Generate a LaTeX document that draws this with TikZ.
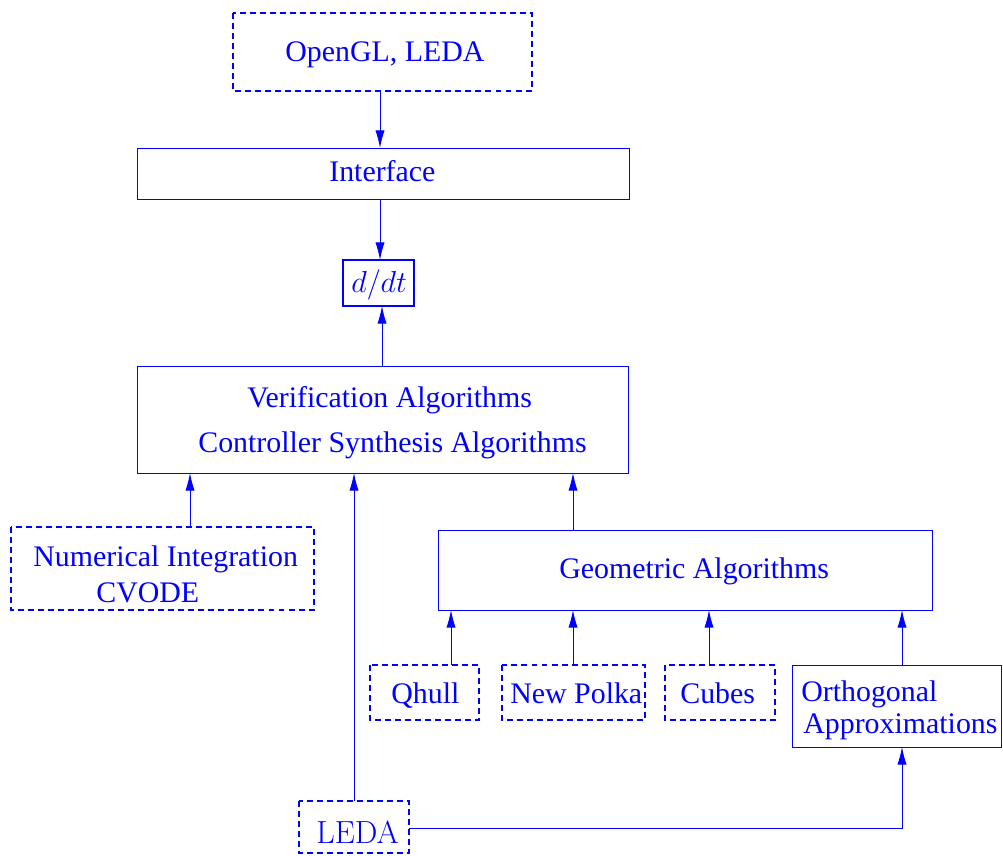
\documentclass[tikz,border=0pt]{standalone}
\usepackage{fontspec}
\setmainfont{Liberation Serif}
\newfontfamily\lmfont{Latin Modern Roman}
\usetikzlibrary{arrows.meta}
\definecolor{bl}{RGB}{0,0,255}
\begin{document}
\begin{tikzpicture}[x=0.02cm,y=-0.02cm,
  solidbox/.style={draw=bl,line width=0.5pt},
  dbox/.style={draw=bl,line width=0.6pt,dash pattern=on 3.4pt off 2.3pt},
  txt/.style={text=bl,inner sep=0,anchor=base west,font=\fontsize{17}{20}\selectfont},
  arr/.style={draw=bl,line width=0.5pt,-{Latex[length=10pt,width=5.2pt]}}]
\useasboundingbox (0,0) rectangle (1003,855);
% boxes
\draw[dbox] (233,13) rectangle (532,91);
\draw[solidbox] (137,148) rectangle (629,199);
\draw[draw=bl,line width=1.15pt] (343,260) rectangle (414,306);
\draw[solidbox] (137,366) rectangle (628,473);
\draw[dbox] (11,527) rectangle (314,610);
\draw[solidbox] (438,530) rectangle (932,610);
\draw[dbox] (370,665) rectangle (479,720);
\draw[dbox] (502,665) rectangle (645,720);
\draw[dbox] (665,665) rectangle (775,720);
\draw[solidbox] (792,665) rectangle (1001,747);
\draw[dbox] (299,801) rectangle (409,853);
% texts
\node[txt] (topt) at (285,61.5) {OpenGL, LEDA};
\node[txt] (ifacet) at (329,181) {Interface};
\node[txt] (ddtt) at (351,292) {$d/dt$};
\node[txt] (veri) at (247,407) {Verification Algorithms};
\node[txt] (ctrl) at (198,452) {Controller Synthesis Algorithms};
\node[txt] (numi) at (33,566.5) {Numerical Integration};
\node[txt] (cvode) at (96,602) {CVODE};
\node[txt] (geomt) at (559,578) {Geometric Algorithms};
\node[txt] (qhullt) at (391,703) {Qhull};
\node[txt] (polkat) at (510,703) {New Polka};
\node[txt] (cubest) at (680,703) {Cubes};
\node[txt] (orth) at (801,701) {Orthogonal};
\node[txt] (appr) at (803,733.5) {Approximations};
\node[txt,font=\lmfont\fontsize{18.2}{20}\selectfont] (ledat) at (316,843) {LEDA};
% connectors
\coordinate (a1) at (380,91); \coordinate (b1) at (380,148);
\coordinate (a2) at (380,199); \coordinate (b2) at (380,260);
\coordinate (a3) at (382,366); \coordinate (b3) at (382,306);
\coordinate (a4) at (190,527); \coordinate (b4) at (190,473);
\coordinate (a5) at (354,801); \coordinate (b5) at (354,473);
\coordinate (a6) at (573,530); \coordinate (b6) at (573,473);
\coordinate (a7) at (451,665); \coordinate (b7) at (451,610);
\coordinate (a8) at (573,665); \coordinate (b8) at (573,610);
\coordinate (a9) at (709,665); \coordinate (b9) at (709,610);
\coordinate (a10) at (902,665); \coordinate (b10) at (902,610);
\coordinate (a11) at (409,828); \coordinate (m11) at (902,828); \coordinate (b11) at (902,747);
\draw[arr] (a1) -- (b1);
\draw[arr] (a2) -- (b2);
\draw[arr] (a3) -- (b3);
\draw[arr] (a4) -- (b4);
\draw[arr] (a5) -- (b5);
\draw[arr] (a6) -- (b6);
\draw[arr] (a7) -- (b7);
\draw[arr] (a8) -- (b8);
\draw[arr] (a9) -- (b9);
\draw[arr] (a10) -- (b10);
\draw[arr] (a11) -- (m11) -- (b11);
\end{tikzpicture}
\end{document}
